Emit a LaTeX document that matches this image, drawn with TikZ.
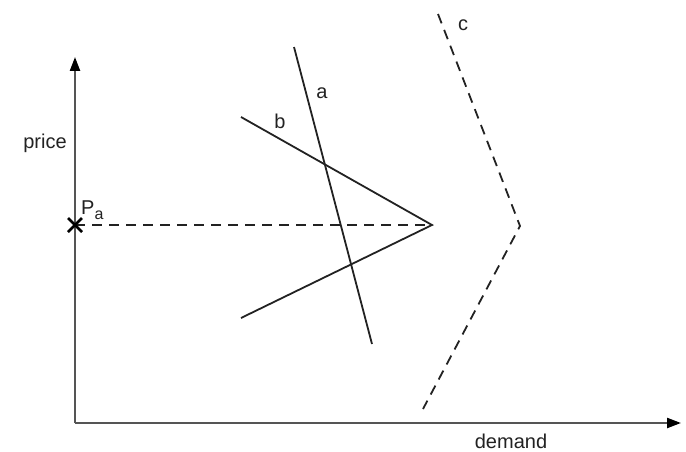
\documentclass[tikz,border=0pt]{standalone}
\usepackage{fontspec}
\setmainfont{Liberation Sans}
\usetikzlibrary{arrows.meta,calc}
\definecolor{ink}{HTML}{222222}
\definecolor{axisgray}{HTML}{555555}
\tikzset{
  axis/.style={draw=axisgray, line width=2.3pt, -{Triangle[length=14pt,width=10pt,color=black]}},
  curve/.style={draw=ink, line width=1.8pt},
  dashcurve/.style={draw=ink, line width=1.8pt, dash pattern=on 10pt off 7pt},
  lbl/.style={text=ink, font=\fontsize{20}{24}\selectfont, inner sep=0pt},
}
\begin{document}
\begin{tikzpicture}[x=1pt,y=-1pt]
\useasboundingbox (0,0) rectangle (686,452);
% axes
\coordinate (O) at (75,423);
\coordinate (ytip) at (75,57);
\coordinate (xtip) at (681,423);
\draw[axis] (O) -- (ytip);
\draw[axis] (O) -- (xtip);
\node[lbl] (price) at (45,143) {price};
\node[lbl] (demand) at (511,441) {demand};
% P_a
\coordinate (Pa) at (75,225);
\node[lbl, anchor=base west] (Plabel) at (81,214) {P\raisebox{-0.5ex}{\fontsize{16}{18}\selectfont a}};
% dashed price line
\coordinate (V) at (432,225);
\draw[dashcurve] (Pa) -- (V);
\draw[draw=black, line width=2.8pt] ($(Pa)+(-7,-7)$) -- ($(Pa)+(7,7)$) ($(Pa)+(-7,7)$) -- ($(Pa)+(7,-7)$);
% line a
\coordinate (a1) at (294,47);
\coordinate (a2) at (372,344);
\draw[curve] (a1) -- (a2);
\node[lbl] (la) at (322,93) {a};
% line b
\coordinate (b1) at (241,117);
\coordinate (b2) at (241,318);
\draw[curve] (b1) -- (V) -- (b2);
\node[lbl] (lb) at (280,121) {b};
% line c
\coordinate (c1) at (438,14);
\coordinate (cv) at (520,226);
\coordinate (c2) at (423,409);
\draw[dashcurve] (c1) -- (cv) -- (c2);
\node[lbl] (lc) at (463,25) {c};
\end{tikzpicture}
\end{document}
